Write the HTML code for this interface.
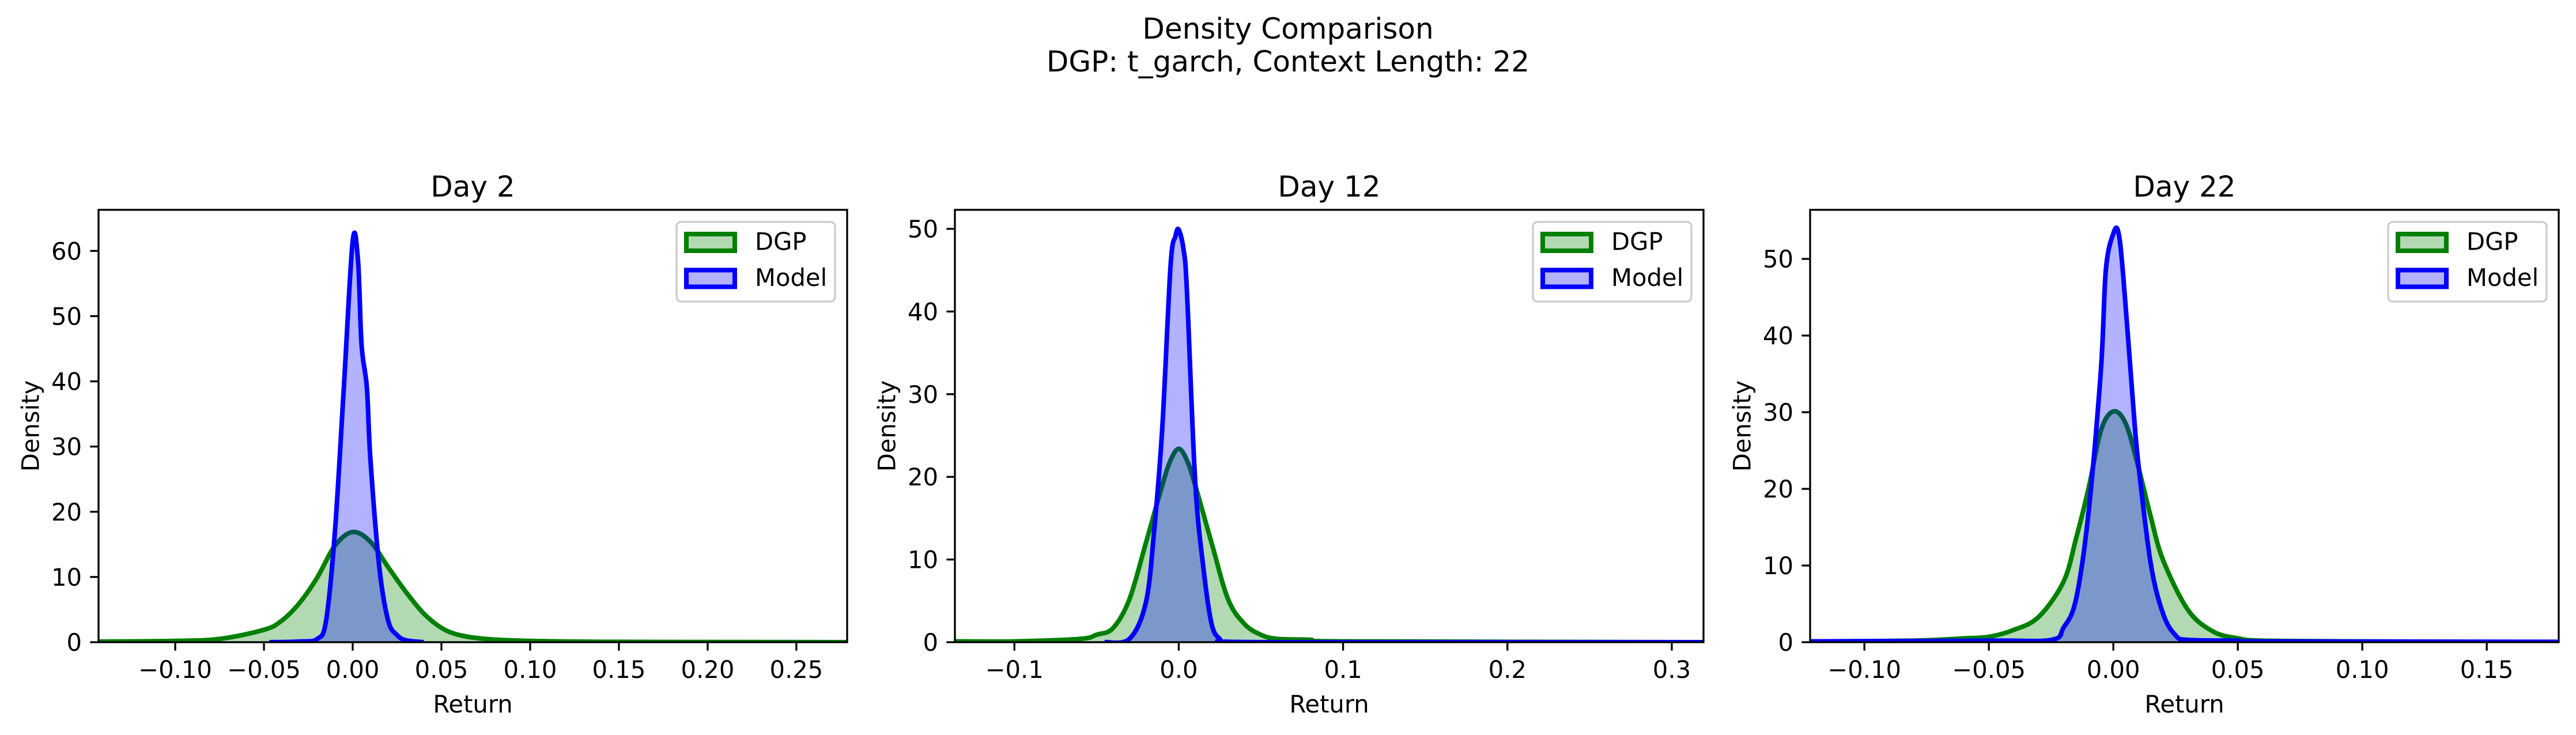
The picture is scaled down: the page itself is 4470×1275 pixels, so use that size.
<!DOCTYPE html>
<html><head><meta charset="utf-8"><style>
html,body{margin:0;padding:0;background:#fff;}
svg{display:block;}
text{font-family:"DejaVu Sans","Liberation Sans",sans-serif;fill:#000;}
</style></head><body>
<svg id="fig" width="4470" height="1275" viewBox="0 0 4470 1275" xmlns="http://www.w3.org/2000/svg">
<rect width="4470" height="1275" fill="#fff"/>
<text x="2235" y="67" font-size="50" text-anchor="middle">Density Comparison</text>
<text x="2235" y="124" font-size="50" text-anchor="middle">DGP: t_garch, Context Length: 22</text>
</svg>
<script>
// ---- data ----
const panelTitles = ["Day 2", "Day 12", "Day 22"];
const xTicks1 = [-0.10, -0.05, 0.00, 0.05, 0.10, 0.15, 0.20, 0.25];
const xTickLabels1 = ["\u22120.10","\u22120.05","0.00","0.05","0.10","0.15","0.20","0.25"];
const xTicks2 = [-0.1, 0.0, 0.1, 0.2, 0.3];
const xTickLabels2 = ["\u22120.1","0.0","0.1","0.2","0.3"];
const xTicks3 = [-0.10, -0.05, 0.00, 0.05, 0.10, 0.15];
const xTickLabels3 = ["\u22120.10","\u22120.05","0.00","0.05","0.10","0.15"];
const yTicks1 = [0,10,20,30,40,50,60];
const yTicks2 = [0,10,20,30,40,50];
const yTicks3 = [0,10,20,30,40,50];

const dgpX1 = [-0.143,-0.10,-0.075,-0.05,-0.04,-0.03,-0.02,-0.01,0,0.01,0.02,0.03,0.04,0.05,0.06,0.075,0.10,0.15,0.279];
const dgpY1 = [0.1,0.2,0.5,1.9,3.3,6,9.9,14.8,16.9,15.4,11.5,7.7,4.4,2.2,1.1,0.5,0.2,0.05,0];
const modelX1 = [-0.047,-0.03,-0.02,-0.015,-0.01,-0.005,0,0.003,0.005,0.008,0.01,0.015,0.02,0.025,0.03,0.04];
const modelY1 = [0,0.1,0.5,3.3,17,39,61.5,58.5,45.6,39,28,11.5,3.3,1.1,0.3,0];

const dgpX2 = [-0.136,-0.1,-0.06,-0.05,-0.04,-0.03,-0.02,-0.01,-0.005,0,0.005,0.01,0.02,0.03,0.04,0.05,0.06,0.08,0.1,0.319];
const dgpY2 = [0.1,0.1,0.4,0.9,1.7,5.2,12,19,22,23.4,22,19,12,5.2,2.2,0.9,0.4,0.3,0.1,0];
const modelX2 = [-0.045,-0.03,-0.02,-0.015,-0.01,-0.005,-0.002,0,0.003,0.005,0.01,0.015,0.02,0.025,0.03,0.1,0.319];
const modelY2 = [0,0.4,4.8,13.4,26,45.5,49.1,49.9,47.4,42.4,19.5,9,2.2,0.4,0.05,0,0];

const dgpX3 = [-0.122,-0.08,-0.06,-0.05,-0.04,-0.03,-0.02,-0.015,-0.01,-0.005,0,0.005,0.01,0.015,0.02,0.03,0.04,0.05,0.06,0.1,0.179];
const dgpY3 = [0.1,0.2,0.5,0.7,1.6,3.3,7.9,13.5,20,27.6,30.1,28.5,22.9,16.4,10.7,4.2,1.4,0.5,0.2,0.1,0];
const modelX3 = [-0.122,-0.05,-0.025,-0.02,-0.015,-0.01,-0.005,-0.003,0,0.002,0.004,0.008,0.01,0.015,0.02,0.025,0.03,0.05,0.06,0.179];
const modelY3 = [0.1,0.2,0.3,1.9,5.6,16.8,35.5,48.6,53.3,53.5,47.7,30.8,23.4,10.3,3.7,0.9,0.3,0.2,0.1,0.05];

const panels = [
  {L:171, R:1470, xmin:-0.1432, xmax:0.2786, ymax:66.3, xt:xTicks1, xl:xTickLabels1, yt:yTicks1, dx:dgpX1, dy:dgpY1, mx:modelX1, my:modelY1, ylabX:53},
  {L:1657, R:2956, xmin:-0.1362, xmax:0.3193, ymax:52.3, xt:xTicks2, xl:xTickLabels2, yt:yTicks2, dx:dgpX2, dy:dgpY2, mx:modelX2, my:modelY2, ylabX:1539},
  {L:3141, R:4440, xmin:-0.1218, xmax:0.1789, ymax:56.4, xt:xTicks3, xl:xTickLabels3, yt:yTicks3, dx:dgpX3, dy:dgpY3, mx:modelX3, my:modelY3, ylabX:3023}
];
const TOP = 364, BOT = 1114;
const NS = "http://www.w3.org/2000/svg";
const svg = document.getElementById("fig");
function mk(tag, attrs, parent){ const e=document.createElementNS(NS,tag); for(const k in attrs) e.setAttribute(k,attrs[k]); (parent||svg).appendChild(e); return e; }

function smoothPath(pts){
  let d = "M"+pts[0][0].toFixed(2)+","+pts[0][1].toFixed(2);
  for(let i=0;i<pts.length-1;i++){
    const p0=pts[Math.max(0,i-1)], p1=pts[i], p2=pts[i+1], p3=pts[Math.min(pts.length-1,i+2)];
    const c1=[p1[0]+(p2[0]-p0[0])/6, p1[1]+(p2[1]-p0[1])/6];
    const c2=[p2[0]-(p3[0]-p1[0])/6, p2[1]-(p3[1]-p1[1])/6];
    d += " C"+c1[0].toFixed(2)+","+c1[1].toFixed(2)+" "+c2[0].toFixed(2)+","+c2[1].toFixed(2)+" "+p2[0].toFixed(2)+","+p2[1].toFixed(2);
  }
  return d;
}

panels.forEach((p, i) => {
  const xs = v => p.L + (v - p.xmin) / (p.xmax - p.xmin) * (p.R - p.L);
  const ys = v => BOT - v / p.ymax * (BOT - TOP);
  const g = mk("g", {});
  
  
  const clipId = "clip"+i;
  const cp = mk("clipPath", {id:clipId}, g);
  mk("rect", {x:p.L, y:TOP, width:p.R-p.L, height:BOT-TOP}, cp);
  const plot = mk("g", {"clip-path":"url(#"+clipId+")"}, g);

  function series(X, Y, color, fill, name){
    const pts = X.map((x,k)=>[xs(x), ys(Y[k])]);
    const line = smoothPath(pts);
    const area = mk("path", {d: line + " L"+pts[pts.length-1][0].toFixed(2)+","+BOT+" L"+pts[0][0].toFixed(2)+","+BOT+" Z", fill: fill, "fill-opacity":0.3, stroke:"none"}, plot);
    
    
    const ln = mk("path", {d: line, fill:"none", stroke:color, "stroke-width":8, "stroke-linejoin":"round"}, plot);
    
    
  }
  series(p.dx, p.dy, "#008000", "#008000", "dgp");
  series(p.mx, p.my, "#0000ff", "#0000ff", "model");

  const fr = mk("rect", {x:p.L, y:TOP, width:p.R-p.L, height:BOT-TOP, fill:"none", stroke:"#000", "stroke-width":3.3}, g);
  
  

  p.xt.forEach((v,k) => {
    const x = xs(v);
    mk("line", {x1:x, y1:BOT, x2:x, y2:BOT+14.6, stroke:"#000", "stroke-width":3.3}, g);
    const t = mk("text", {x:x, y:BOT+62, "font-size":41.7, "text-anchor":"middle"}, g);
    t.textContent = p.xl[k];
    
    
  });
  p.yt.forEach(v => {
    const y = ys(v);
    mk("line", {x1:p.L-14.6, y1:y, x2:p.L, y2:y, stroke:"#000", "stroke-width":3.3}, g);
    const t = mk("text", {x:p.L-29, y:y+15, "font-size":41.7, "text-anchor":"end"}, g);
    t.textContent = String(v);
    
    
  });
  const cx = (p.L + p.R)/2;
  const tt = mk("text", {x:cx, y:341, "font-size":50, "text-anchor":"middle"}, g);
  tt.textContent = panelTitles[i];
  
  
  const xl = mk("text", {x:cx, y:1236, "font-size":41.7, "text-anchor":"middle"}, g);
  xl.textContent = "Return";
  
  
  const yl = mk("text", {x:p.ylabX, y:739, "font-size":41.7, "text-anchor":"middle", transform:"rotate(-90 "+(p.ylabX)+" 739)", "dominant-baseline":"central"}, g);
  yl.textContent = "Density";
  
  

  const lg = mk("g", {}, g);
  
  
  mk("rect", {x:p.R-296, y:TOP+21, width:275, height:138, rx:8, fill:"#fff", "fill-opacity":0.8, stroke:"#cccccc", "stroke-width":3.3}, lg);
  const entries = [["DGP","#008000",56.5],["Model","#0000ff",119]];
  entries.forEach(e => {
    const ent = mk("g", {}, lg);
    
    
    mk("rect", {x:p.R-283+4, y:TOP+e[2]-18.5+4, width:84, height:29, fill:e[1], "fill-opacity":0.3, stroke:e[1], "stroke-width":8}, ent);
    const t = mk("text", {x:p.R-160, y:TOP+e[2]+13, "font-size":41.7}, ent);
    t.textContent = e[0];
  });
});
</script>
</body></html>
